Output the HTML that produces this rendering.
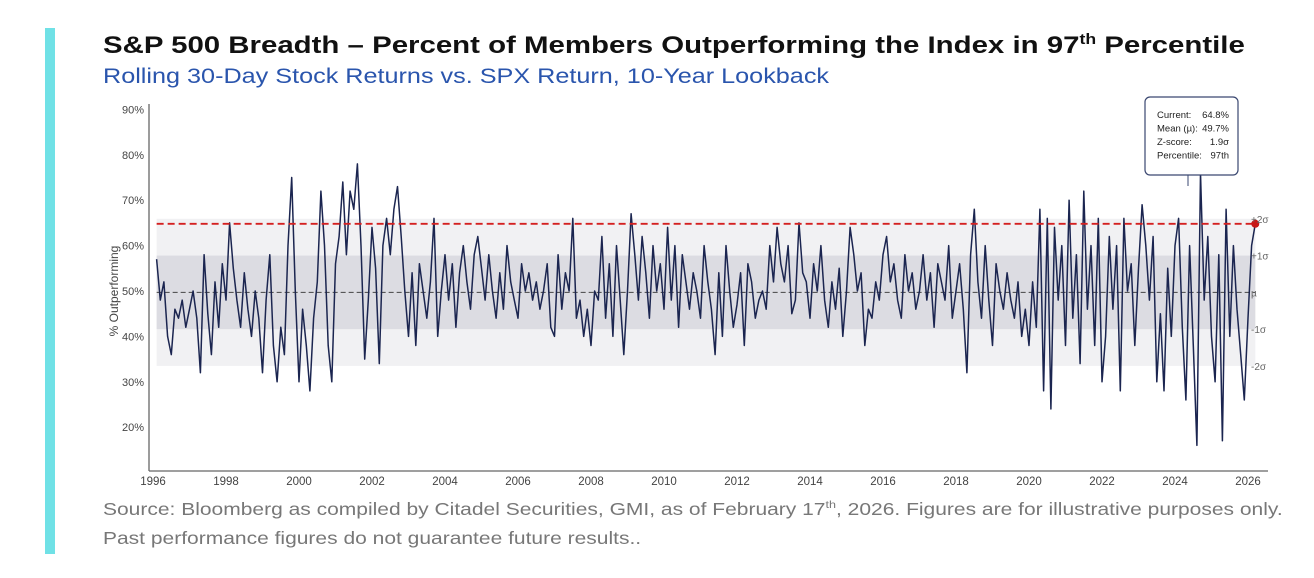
<!DOCTYPE html>
<html><head><meta charset="utf-8">
<style>
body{margin:0;width:1314px;height:578px;background:#fff;font-family:"Liberation Sans",sans-serif;overflow:hidden;position:relative}
.bar{position:absolute;left:45px;top:28px;width:10px;height:526px;background:#70e1e6}
.t{position:absolute;left:103px;top:32px;font-size:24px;font-weight:bold;color:#111;white-space:nowrap;transform:scaleX(1.225);transform-origin:0 0}
.s{position:absolute;left:103px;top:65px;font-size:21px;color:#2a55ad;white-space:nowrap;transform:scaleX(1.2);transform-origin:0 0}
.src{position:absolute;left:103px;font-size:17.5px;color:#777;white-space:nowrap;transform:scaleX(1.2);transform-origin:0 0}
sup{font-size:60%}
</style></head><body>
<div class="bar"></div>
<div class="t">S&amp;P 500 Breadth – Percent of Members Outperforming the Index in 97<sup>th</sup> Percentile</div>
<div class="s">Rolling 30-Day Stock Returns vs. SPX Return, 10-Year Lookback</div>
<div class="src" style="top:499px">Source: Bloomberg as compiled by Citadel Securities, GMI, as of February 17<sup>th</sup>, 2026. Figures are for illustrative purposes only.</div>
<div class="src" style="top:528px">Past performance figures do not guarantee future results..</div>
<svg id="ch" width="1314" height="578" style="position:absolute;left:0;top:0"></svg>
<script>
const values=[57,48,52,40,36,46,44,48,42,46,
50,44,32,58,45,36,52,42,56,48,
65,55,48,42,54,46,40,50,44,32,
48,58,38,30,42,36,60,75,50,30,
46,38,28,44,52,72,60,38,30,56,
62,74,58,72,68,78,60,35,48,64,
55,34,60,66,58,68,73,62,50,40,
54,38,56,50,44,52,66,40,50,58,
48,56,42,54,60,52,46,58,62,55,
48,58,50,44,54,46,60,52,48,44,
56,50,54,48,52,46,50,56,42,40,
58,46,54,50,66,44,48,40,46,38,
50,48,62,44,56,40,60,48,36,50,
67,58,48,62,54,44,60,50,56,46,
64,48,60,42,58,52,46,54,50,44,
60,52,46,36,54,40,60,50,42,47,
54,38,56,52,44,48,50,46,60,52,
64,56,52,60,45,48,65,54,52,44,
56,50,60,48,42,52,46,55,40,50,
64,58,50,54,38,46,44,52,48,58,
62,52,56,48,44,58,50,54,46,50,
58,48,54,42,56,52,48,60,44,50,
56,46,32,58,68,52,44,60,48,38,
56,50,46,54,48,44,52,40,46,38,
52,42,68,28,66,24,64,48,60,38,
70,44,58,34,72,46,60,38,66,30,
40,62,46,60,28,66,50,56,38,55,
69,60,48,62,30,45,28,55,40,60,
66,42,26,60,38,16,76,48,62,40,
30,58,17,68,40,60,46,36,26,44,
60,64.8];
const startYear=1996.1, perYear=10;
const yTicks=[20,30,40,50,60,70,80,90];
const xTicks=[1996,1998,2000,2002,2004,2006,2008,2010,2012,2014,2016,2018,2020,2022,2024,2026];
const stats=[["Current:","64.8%"],["Mean (µ):","49.7%"],["Z-score:","1.9σ"],["Percentile:","97th"]];
const mean=49.7, sd=8.1, current=64.8;
const sigmaLabels=[["+2σ",2],["+1σ",1],["µ",0],["-1σ",-1],["-2σ",-2]];
const X=y=>664+(y-2010)*36.5;
const Y=v=>291-(v-50)*4.54;
const svg=document.getElementById('ch');
const NS='http://www.w3.org/2000/svg';
function mk(t,a,p){const e=document.createElementNS(NS,t);for(const k in a)e.setAttribute(k,a[k]);(p||svg).appendChild(e);return e;}
const x0=X(startYear), x1=X(startYear+(values.length-1)/perYear);
let r=mk('rect',{x:x0,y:Y(mean+2*sd),width:x1-x0,height:Y(mean-2*sd)-Y(mean+2*sd),fill:'#f1f1f3'});


r=mk('rect',{x:x0,y:Y(mean+sd),width:x1-x0,height:Y(mean-sd)-Y(mean+sd),fill:'#dcdce2'});


let l=mk('line',{x1:x0,x2:x1,y1:Y(mean),y2:Y(mean),stroke:'#444','stroke-width':1,'stroke-dasharray':'5,3'});


l=mk('line',{x1:149,x2:149,y1:104,y2:471,stroke:'#666','stroke-width':1.3});


l=mk('line',{x1:149,x2:1268,y1:471,y2:471,stroke:'#666','stroke-width':1.3});


yTicks.forEach(v=>{const t=mk('text',{x:144,y:Y(v)+4,'text-anchor':'end','font-size':11,fill:'#444','font-family':'Liberation Sans'});t.textContent=v+'%';

});
xTicks.forEach(v=>{const t=mk('text',{x:X(v),y:485,'text-anchor':'middle','font-size':11.5,fill:'#444','font-family':'Liberation Sans'});t.textContent=v;

});
let yt=mk('text',{x:118,y:291,'text-anchor':'middle','font-size':12,fill:'#444','font-family':'Liberation Sans',transform:'rotate(-90 118 291)'});
yt.textContent='% Outperforming';


const pts=values.map((v,i)=>X(startYear+i/perYear).toFixed(1)+','+Y(v).toFixed(1)).join(' ');
const pl=mk('polyline',{points:pts,fill:'none',stroke:'#1b2550','stroke-width':1.5,'stroke-linejoin':'round'});


l=mk('line',{x1:x0,x2:x1,y1:Y(current),y2:Y(current),stroke:'#d42020','stroke-width':1.8,'stroke-dasharray':'7,4'});


const dot=mk('circle',{cx:x1,cy:Y(current),r:4,fill:'#c81818'});


sigmaLabels.forEach(([s,k])=>{const t=mk('text',{x:1251,y:Y(mean+k*sd)+4,'font-size':10,fill:'#666','font-family':'Liberation Sans'});t.textContent=s;

});
l=mk('line',{x1:1188,x2:1188,y1:175,y2:186,stroke:'#3a4770','stroke-width':1});


const box=mk('rect',{x:1145,y:97,width:93,height:78,rx:5,fill:'#fff',stroke:'#3a4770','stroke-width':1.2});


stats.forEach(([k,v],i)=>{let t=mk('text',{x:1157,y:118+i*13.5,'font-size':9.5,fill:'#222','font-family':'Liberation Sans'});t.textContent=k;


t=mk('text',{x:1229,y:118+i*13.5,'text-anchor':'end','font-size':9.5,fill:'#222','font-family':'Liberation Sans'});t.textContent=v;

});
</script>
</body></html>
